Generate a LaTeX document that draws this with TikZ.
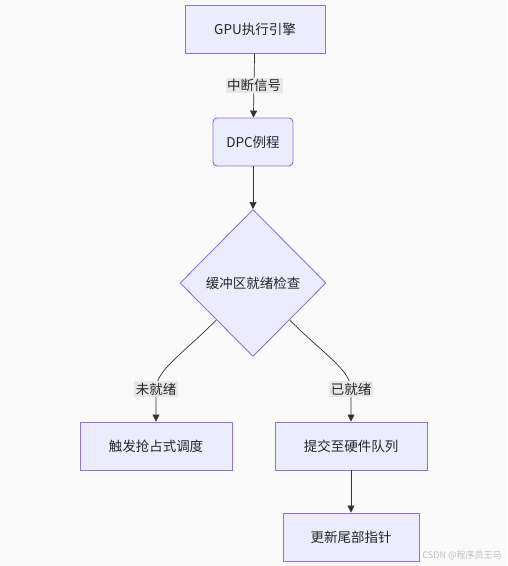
\documentclass[tikz,border=0pt]{standalone}
\usepackage{fontspec}
\setmainfont{Noto Sans CJK SC}
\usetikzlibrary{shapes.geometric,arrows.meta}
\definecolor{boxfill}{HTML}{ECECFF}
\definecolor{boxline}{HTML}{9370DB}
\definecolor{lblfill}{HTML}{E8E8E8}
\definecolor{edgecol}{HTML}{333333}
\definecolor{bgcol}{HTML}{FAFAFA}
\begin{document}
\begin{tikzpicture}[x=1pt,y=1pt,
  font=\fontsize{13.5}{16}\selectfont,
  procbox/.style={draw=boxline, fill=boxfill, line width=0.9pt, rectangle, minimum height=48pt, inner sep=0pt, text=black!85},
  decbox/.style={draw=boxline, fill=boxfill, line width=0.9pt, diamond, minimum width=146pt, minimum height=147pt, inner sep=0pt, text=black!85},
  lbl/.style={fill=lblfill, inner sep=1.5pt, text=black!85},
  edge/.style={draw=edgecol, line width=0.7pt, -{Triangle[length=7pt,width=7pt]}}]
\useasboundingbox[fill=bgcol] (0,0) rectangle (507,566);
\node[procbox, minimum width=140pt] (gpu) at (255,537) {GPU执行引擎};
\node[procbox, minimum width=80pt, rounded corners=4pt] (dpc) at (253,424) {DPC例程};
\node[decbox] (check) at (253,283) {缓冲区就绪检查};
\node[procbox, minimum width=152pt] (preempt) at (156,120) {触发抢占式调度};
\node[procbox, minimum width=152pt] (submit) at (351,120) {提交至硬件队列};
\node[procbox, minimum width=136pt] (tail) at (351,29) {更新尾部指针};
\draw[edge] (gpu) -- node[lbl] {中断信号} (dpc);
\draw[edge] (dpc) -- (check);
\draw[edge] (check.south west) .. controls (185,214) and (156,196) .. (156,177) node[lbl] {未就绪} -- (preempt.north);
\draw[edge] (check.south east) .. controls (321,214) and (351,196) .. (351,177) node[lbl] {已就绪} -- (submit.north);
\draw[edge] (submit) -- (tail);
\node[text=black!25, font=\fontsize{9}{11}\selectfont] (mark) at (462,11) {CSDN @程序员王马};
\end{tikzpicture}
\end{document}
